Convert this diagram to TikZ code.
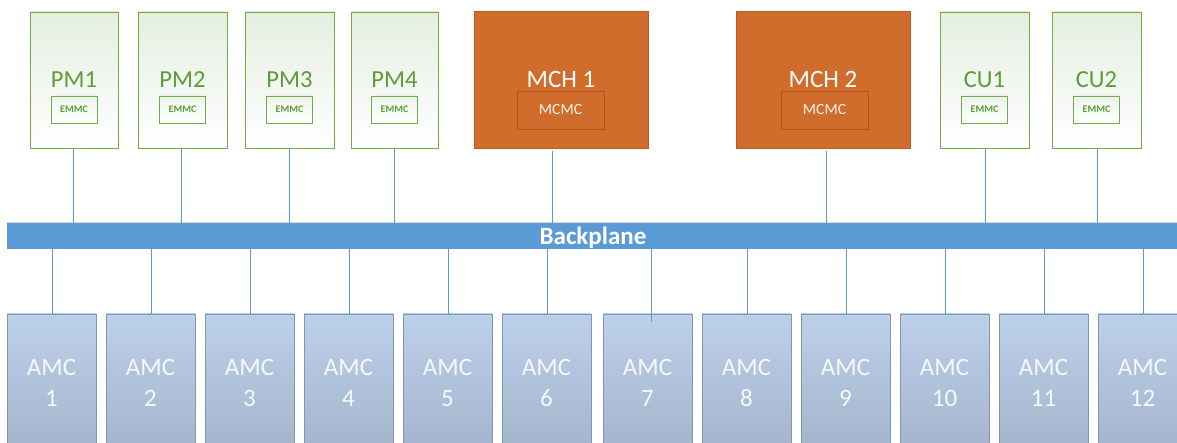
\documentclass[tikz,border=0pt]{standalone}
\usepackage{fontspec}
\setmainfont{Carlito}
\definecolor{pmtop}{RGB}{228,238,224}
\definecolor{pmbord}{RGB}{112,173,71}
\definecolor{pmtext}{RGB}{94,155,58}
\definecolor{mchfill}{RGB}{208,108,44}
\definecolor{mchbord}{RGB}{190,92,30}
\definecolor{mchin}{RGB}{178,84,26}
\definecolor{bpfill}{RGB}{91,155,213}
\definecolor{bpedge}{RGB}{215,220,226}
\definecolor{amctop}{RGB}{189,208,234}
\definecolor{amcbot}{RGB}{164,180,204}
\definecolor{amcbord}{RGB}{128,150,180}
\definecolor{amctext}{RGB}{246,249,252}
\definecolor{wire}{RGB}{91,155,213}
\begin{document}
\begin{tikzpicture}[x=1pt,y=-1pt,
  pmbox/.style={draw=pmbord,line width=0.9pt,top color=pmtop,bottom color=white,
    minimum width=88pt,minimum height=136pt,inner sep=0pt,text=pmtext,
    font=\fontsize{24.5}{28}\selectfont},
  emmcbox/.style={draw=pmbord,line width=0.9pt,top color=pmtop!70,bottom color=white,
    minimum width=46pt,minimum height=27pt,inner sep=0pt,text=pmtext,
    font=\bfseries\fontsize{10}{12}\selectfont},
  mchbox/.style={draw=mchbord,line width=0.8pt,fill=mchfill,
    minimum width=174pt,minimum height=137pt,inner sep=0pt,text=white,
    font=\fontsize{25}{28}\selectfont},
  mcmcbox/.style={draw=mchin,line width=0.8pt,fill=mchfill,
    minimum width=87pt,minimum height=38pt,inner sep=0pt,text=white!92!mchfill,
    font=\fontsize{15.5}{18}\selectfont},
  amcbox/.style={draw=amcbord,line width=0.8pt,top color=amctop,bottom color=amcbot,
    minimum width=89pt,minimum height=137pt,inner sep=0pt,text=amctext,align=center,
    font=\fontsize{25}{31}\selectfont},
  bpbox/.style={fill=bpfill,minimum width=1172pt,minimum height=26pt,inner sep=0pt,
    text=white,font=\bfseries\fontsize{25}{26}\selectfont},
  wireline/.style={draw=wire,line width=1pt}]
\useasboundingbox (0,0) rectangle (1177,443);
\clip (0,0) rectangle (1177,443);
% backplane
\node[bpbox] (bp) at (593,236) {};
\draw[bpedge,line width=0.8pt] (bp.north west) -- (bp.north east);
\node[text=white,font=\bfseries\fontsize{25}{26}\selectfont,inner sep=0pt] (bpl) at (593,237.5) {Backplane};
% top boards
\node[pmbox] (pm1) at (74,80) {PM1};
\node[pmbox,minimum width=89pt] (pm2) at (182.5,80) {PM2};
\node[pmbox,minimum width=89pt] (pm3) at (289.5,80) {PM3};
\node[pmbox,minimum width=87pt] (pm4) at (394.5,80) {PM4};
\node[pmbox,minimum width=89pt] (cu1) at (984.5,80) {CU1};
\node[pmbox,minimum width=89pt] (cu2) at (1096.5,80) {CU2};
\node[emmcbox] (e1) at (74,109.5) {EMMC};
\node[emmcbox] (e2) at (182.5,109.5) {EMMC};
\node[emmcbox] (e3) at (289.5,109.5) {EMMC};
\node[emmcbox] (e4) at (394.5,109.5) {EMMC};
\node[emmcbox] (e5) at (984.5,109.5) {EMMC};
\node[emmcbox] (e6) at (1096.5,109.5) {EMMC};
\node[mchbox] (mch1) at (561,79.5) {};
\node[mcmcbox] (mc1) at (560.5,110) {MCMC};
\node[text=white,font=\fontsize{25}{28}\selectfont] (mchl1) at (561,79) {MCH 1};
\node[mchbox] (mch2) at (823,79.5) {};
\node[mcmcbox] (mc2) at (824.5,110) {MCMC};
\node[text=white,font=\fontsize{25}{28}\selectfont] (mchl2) at (823,79) {MCH 2};
% AMC boards
\foreach \i/\x in {1/51.5,2/150.5,3/249.5,4/348.5,5/447.5,6/546.5,7/647.5,8/746.5,9/845.5,10/944.5,11/1043.5,12/1142.5}{
  \node[amcbox] (amc\i) at (\x,382.5) {AMC\\\i};
}
% top connectors
\foreach \n/\d in {pm1/-0.5,pm2/-1.5,pm3/-0.5,pm4/-0.5,cu1/0.5,cu2/0.5}{
  \draw[wireline] ([xshift=\d pt]\n.south) -- ([xshift=\d pt]\n.south |- bp.north);
}
\draw[wireline] ([xshift=-9pt,yshift=-3pt]mch1.south) -- ([xshift=-9pt]mch1.south |- bp.north);
\draw[wireline] ([xshift=3pt,yshift=-3pt]mch2.south) -- ([xshift=3pt]mch2.south |- bp.north);
% bottom connectors
\foreach \i in {1,2,3,4,5,6,8,9,10,11,12}{
  \draw[wireline] ([xshift=0.5pt]amc\i.north) -- ([xshift=0.5pt]amc\i.north |- bp.south);
}
\draw[wireline] ([xshift=4pt,yshift=-8pt]amc7.north) -- ([xshift=4pt]amc7.north |- bp.south);
\end{tikzpicture}
\end{document}
